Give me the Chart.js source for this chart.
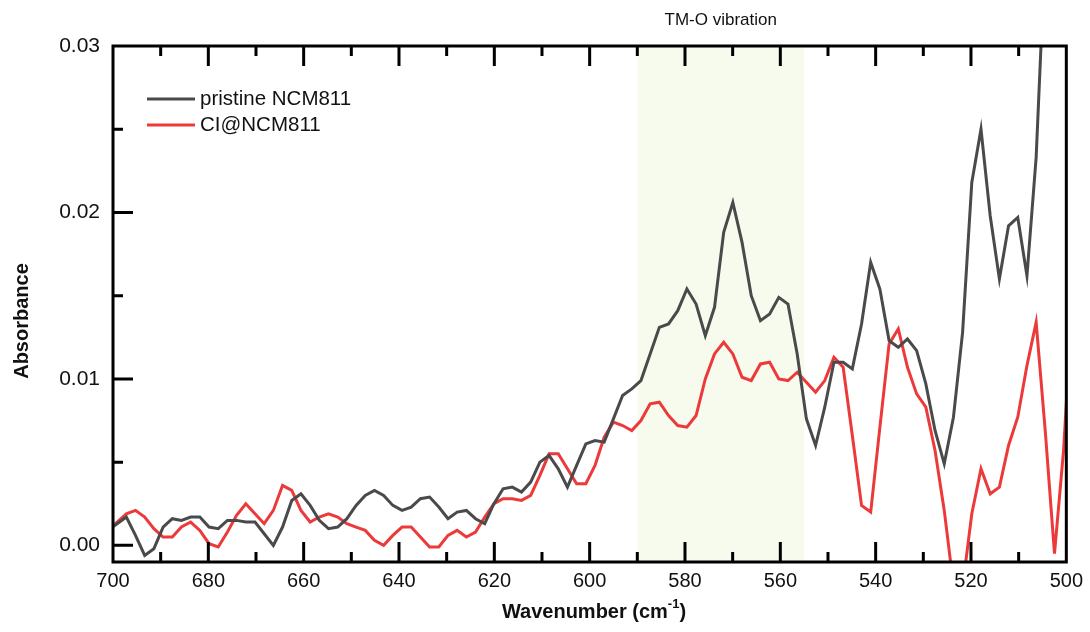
<!DOCTYPE html>
<html>
<head>
<meta charset="utf-8">
<script src="https://cdn.jsdelivr.net/npm/chart.js@4/dist/chart.umd.min.js"></script>
<style>
html, body { margin: 0; padding: 0; background: #fff; }
</style>
</head>
<body>
<canvas id="chart" width="1090" height="632"></canvas>
<script>
// wavenumber axis (cm-1), left to right
var wavenumbers = [
  701.06, 699.13, 697.20, 695.28, 693.35, 691.42, 689.49, 687.56, 685.64, 683.71,
  681.78, 679.85, 677.92, 676.00, 674.07, 672.14, 670.21, 668.28, 666.36, 664.43,
  662.50, 660.57, 658.64, 656.72, 654.79, 652.86, 650.93, 649.00, 647.08, 645.15,
  643.22, 641.29, 639.36, 637.44, 635.51, 633.58, 631.65, 629.72, 627.80, 625.87,
  623.94, 622.01, 620.08, 618.16, 616.23, 614.30, 612.37, 610.44, 608.52, 606.59,
  604.66, 602.73, 600.80, 598.88, 596.95, 595.02, 593.09, 591.16, 589.24, 587.31,
  585.38, 583.45, 581.52, 579.60, 577.67, 575.74, 573.81, 571.88, 569.96, 568.03,
  566.10, 564.17, 562.24, 560.32, 558.39, 556.46, 554.53, 552.60, 550.68, 548.75,
  546.82, 544.89, 542.96, 541.04, 539.11, 537.18, 535.25, 533.32, 531.40, 529.47,
  527.54, 525.61, 523.68, 521.76, 519.83, 517.90, 515.97, 514.04, 512.12, 510.19,
  508.26, 506.33, 504.40, 502.48, 500.55, 498.62
];
var pristine = [
  0.0009, 0.0013, 0.0017, 0.0006, -0.0006, -0.0002, 0.0011, 0.0016, 0.0015, 0.0017,
  0.0017, 0.0011, 0.0010, 0.0015, 0.0015, 0.0014, 0.0014, 0.0007, 0.0000, 0.0011,
  0.0027, 0.0031, 0.0024, 0.0015, 0.0010, 0.0011, 0.0016, 0.0024, 0.0030, 0.0033,
  0.0030, 0.0024, 0.0021, 0.0023, 0.0028, 0.0029, 0.0023, 0.0016, 0.0020, 0.0021,
  0.0016, 0.0013, 0.0025, 0.0034, 0.0035, 0.0032, 0.0038, 0.0050, 0.0054, 0.0046,
  0.0035, 0.0048, 0.0061, 0.0063, 0.0062, 0.0076, 0.0090, 0.0094, 0.0099, 0.0115,
  0.0131, 0.0133, 0.0141, 0.0154, 0.0145, 0.0126, 0.0143, 0.0188, 0.0206, 0.0182,
  0.0150, 0.0135, 0.0139, 0.0149, 0.0145, 0.0115, 0.0076, 0.0060, 0.0083, 0.0110,
  0.0110, 0.0106, 0.0133, 0.0170, 0.0154, 0.0123, 0.0119, 0.0124, 0.0117, 0.0097,
  0.0069, 0.0049, 0.0077, 0.0128, 0.0218, 0.0250, 0.0198, 0.0160, 0.0192, 0.0197,
  0.0162, 0.0233, 0.0360, null, null, null
];
var clNcm = [
  0.0009, 0.0014, 0.0019, 0.0021, 0.0017, 0.0010, 0.0005, 0.0005, 0.0011, 0.0014,
  0.0009, 0.0001, -0.0001, 0.0008, 0.0018, 0.0025, 0.0019, 0.0013, 0.0021, 0.0036,
  0.0033, 0.0021, 0.0014, 0.0017, 0.0019, 0.0017, 0.0013, 0.0011, 0.0009, 0.0003,
  0.0000, 0.0006, 0.0011, 0.0011, 0.0005, -0.0001, -0.0001, 0.0006, 0.0009, 0.0005,
  0.0008, 0.0017, 0.0025, 0.0028, 0.0028, 0.0027, 0.0030, 0.0042, 0.0055, 0.0055,
  0.0046, 0.0037, 0.0037, 0.0048, 0.0065, 0.0074, 0.0072, 0.0069, 0.0075, 0.0085,
  0.0086, 0.0078, 0.0072, 0.0071, 0.0078, 0.0100, 0.0115, 0.0122, 0.0115, 0.0101,
  0.0099, 0.0109, 0.0110, 0.0100, 0.0099, 0.0104, 0.0098, 0.0092, 0.0099, 0.0113,
  0.0107, 0.0066, 0.0024, 0.0020, 0.0071, 0.0121, 0.0130, 0.0107, 0.0091, 0.0083,
  0.0057, 0.0021, -0.0024, -0.0025, 0.0019, 0.0046, 0.0031, 0.0035, 0.0060, 0.0077,
  0.0108, 0.0134, 0.0068, -0.0005, 0.0058, 0.0155
];
var seriesNames = ["pristine NCM811", "CI@NCM811"];
var xTicks = [700, 680, 660, 640, 620, 600, 580, 560, 540, 520, 500];
var yTicks = [0, 0.01, 0.02, 0.03];
var band = [590, 555]; // TM-O vibration region
var bandLabel = "TM-O vibration";

var FONT = "'Liberation Sans', Arial, sans-serif";

function toPoints(values) {
  var pts = [];
  for (var i = 0; i < wavenumbers.length; i++) {
    if (values[i] !== null) pts.push({ x: wavenumbers[i], y: values[i] });
  }
  return pts;
}

var decorPlugin = {
  id: "decor",
  beforeDatasetsDraw: function (chart) {
    var ctx = chart.ctx, a = chart.chartArea, xs = chart.scales.x;
    var x1 = xs.getPixelForValue(band[0]), x2 = xs.getPixelForValue(band[1]);
    ctx.save();
    ctx.fillStyle = "#f6fbee";
    ctx.fillRect(Math.min(x1, x2), a.top, Math.abs(x2 - x1), a.bottom - a.top);
    ctx.restore();
  },
  afterDatasetsDraw: function (chart) {
    var ctx = chart.ctx, a = chart.chartArea;
    var xs = chart.scales.x, ys = chart.scales.y;
    ctx.save();
    ctx.strokeStyle = "#000";
    ctx.lineWidth = 3;
    ctx.lineCap = "butt";
    ctx.beginPath();
    // x ticks, bottom and top, pointing in
    for (var v = 510; v < 700; v += 10) {
      var px = xs.getPixelForValue(v);
      var len = (v % 20 === 0) ? 20 : 10;
      ctx.moveTo(px, a.bottom); ctx.lineTo(px, a.bottom - len);
      ctx.moveTo(px, a.top); ctx.lineTo(px, a.top + len);
    }
    // y ticks, left only
    for (var j = 0; j < 6; j++) {
      var py = ys.getPixelForValue(j * 0.005);
      var l = (j % 2 === 0) ? 20 : 10;
      ctx.moveTo(a.left, py); ctx.lineTo(a.left + l, py);
    }
    ctx.stroke();
    ctx.strokeRect(a.left, a.top, a.right - a.left, a.bottom - a.top);
    ctx.restore();
  },
  afterDraw: function (chart) {
    var ctx = chart.ctx, a = chart.chartArea, xs = chart.scales.x;
    ctx.save();
    // legend
    var ds = chart.data.datasets;
    for (var i = 0; i < ds.length; i++) {
      var y = 99 + i * 26;
      ctx.strokeStyle = ds[i].borderColor;
      ctx.lineWidth = 3;
      ctx.beginPath();
      ctx.moveTo(a.left + 34, y); ctx.lineTo(a.left + 82, y);
      ctx.stroke();
      ctx.fillStyle = "#111";
      ctx.font = "20.5px " + FONT;
      ctx.textAlign = "left";
      ctx.textBaseline = "middle";
      ctx.fillText(ds[i].label, a.left + 87, y);
    }
    // band label
    var bx = (xs.getPixelForValue(band[0]) + xs.getPixelForValue(band[1])) / 2;
    ctx.font = "17px " + FONT;
    ctx.textAlign = "center";
    ctx.fillText(bandLabel, bx, 20);
    // y title
    ctx.font = "bold 20px " + FONT;
    ctx.translate(22, 321);
    ctx.rotate(-Math.PI / 2);
    ctx.fillText("Absorbance", 0, 0);
    ctx.setTransform(1, 0, 0, 1, 0, 0);
    // x title with superscript
    var t1 = "Wavenumber (cm", sup = "-1", t2 = ")";
    ctx.font = "bold 20px " + FONT;
    var w1 = ctx.measureText(t1).width, w3 = ctx.measureText(t2).width;
    ctx.font = "bold 13px " + FONT;
    var w2 = ctx.measureText(sup).width;
    var sx = 594 - (w1 + w2 + w3) / 2;
    ctx.textAlign = "left";
    ctx.font = "bold 20px " + FONT;
    ctx.fillText(t1, sx, 612);
    ctx.font = "bold 13px " + FONT;
    ctx.fillText(sup, sx + w1, 604);
    ctx.font = "bold 20px " + FONT;
    ctx.fillText(t2, sx + w1 + w2, 612);
    ctx.restore();
  }
};

new Chart(document.getElementById("chart").getContext("2d"), {
  type: "line",
  data: {
    datasets: [
      { label: seriesNames[0], data: toPoints(pristine), borderColor: "#4a4a4a", borderWidth: 3, pointRadius: 0, tension: 0 },
      { label: seriesNames[1], data: toPoints(clNcm), borderColor: "#ec3a3b", borderWidth: 3, pointRadius: 0, tension: 0 }
    ]
  },
  options: {
    responsive: false,
    animation: false,
    layout: { padding: { top: 46, right: 22, left: 0, bottom: 0 } },
    plugins: { legend: { display: false }, tooltip: { enabled: false } },
    scales: {
      x: {
        type: "linear", min: 500, max: 700, reverse: true,
        grid: { display: false, drawTicks: false }, border: { display: false },
        afterFit: function (s) { s.height = 70; },
        afterBuildTicks: function (s) { s.ticks = xTicks.map(function (v) { return { value: v }; }); },
        ticks: { padding: 7, color: "#111", font: { family: FONT, size: 20 }, maxRotation: 0,
          callback: function (v) { return String(v); } }
      },
      y: {
        type: "linear", min: -0.001, max: 0.03,
        grid: { display: false, drawTicks: false }, border: { display: false },
        afterFit: function (s) { s.width = 113; },
        afterBuildTicks: function (s) { s.ticks = yTicks.map(function (v) { return { value: v }; }); },
        ticks: { padding: 13, color: "#111", font: { family: FONT, size: 21 },
          callback: function (v) { return v.toFixed(2); } }
      }
    }
  },
  plugins: [decorPlugin]
});
</script>
</body>
</html>
